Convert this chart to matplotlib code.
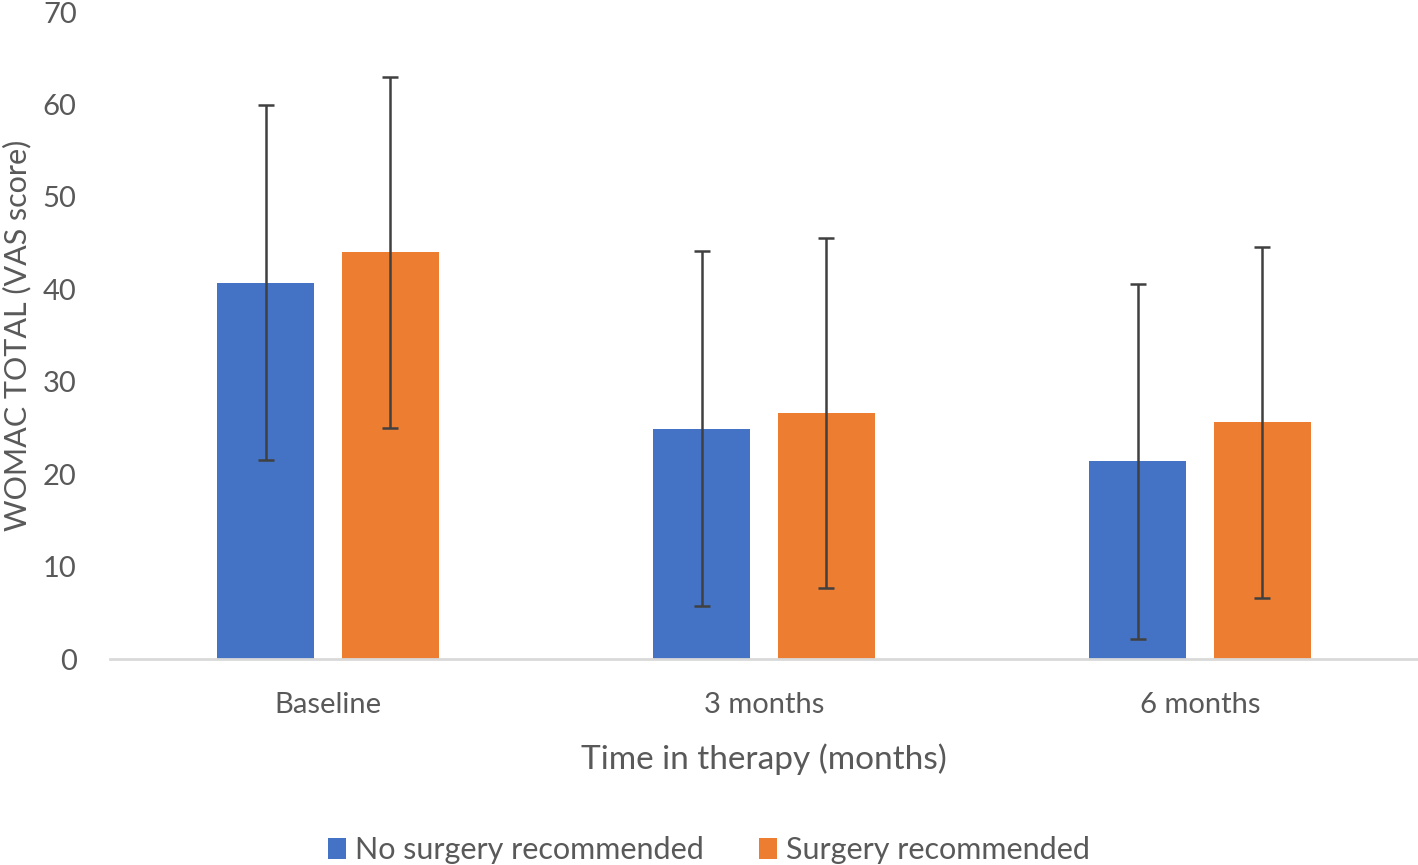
import matplotlib.pyplot as plt
import numpy as np

plt.rcParams['font.family'] = ['Lato', 'DejaVu Sans']

categories = ['Baseline', '3 months', '6 months']
no_surgery = [40.7, 24.9, 21.4]
no_surgery_sd = [19.2, 19.2, 19.2]
surgery = [44.0, 26.6, 25.6]
surgery_sd = [19.0, 18.9, 19.0]

blue = '#4472C4'
orange = '#ED7D31'
text_col = '#595959'

fig = plt.figure(figsize=(14.18, 8.65), dpi=100)
ax = fig.add_axes([110 / 1418, 1 - 659 / 865, 1 - 110 / 1418, (659 - 12) / 865])

x = np.arange(len(categories))
w = 0.224
off = 0.143
err_kw = dict(ecolor='#404040', elinewidth=1.8, capsize=6, capthick=1.8)
ax.bar(x - off, no_surgery, w, color=blue, yerr=no_surgery_sd,
       error_kw=err_kw, label='No surgery recommended', zorder=2)
ax.bar(x + off, surgery, w, color=orange, yerr=surgery_sd,
       error_kw=err_kw, label='Surgery recommended', zorder=2)

ax.set_xlim(-0.5, 2.5)
ax.set_ylim(0, 70)
ax.set_yticks(range(0, 71, 10))
ax.set_xticks(x)
ax.set_xticklabels(categories)
for s in ['top', 'right', 'left']:
    ax.spines[s].set_visible(False)
ax.spines['bottom'].set_color('#D9D9D9')
ax.spines['bottom'].set_linewidth(2)
ax.tick_params(axis='both', length=0, labelsize=21, colors=text_col)
ax.tick_params(axis='x', pad=24)
ax.tick_params(axis='y', pad=24)

ax.set_xlabel('Time in therapy (months)', fontsize=24, color=text_col, labelpad=18)
ax.set_ylabel('WOMAC TOTAL (VAS score)', fontsize=22, color=text_col)
ax.yaxis.set_label_coords(-0.06, 0.5)

fig.legend(loc='lower center', bbox_to_anchor=(0.5, -0.031), ncol=2, frameon=False,
           fontsize=22, handlelength=0.6, handleheight=0.7, handletextpad=0.3,
           columnspacing=1.8, labelcolor=text_col)

fig.savefig('out.png', dpi=100)
